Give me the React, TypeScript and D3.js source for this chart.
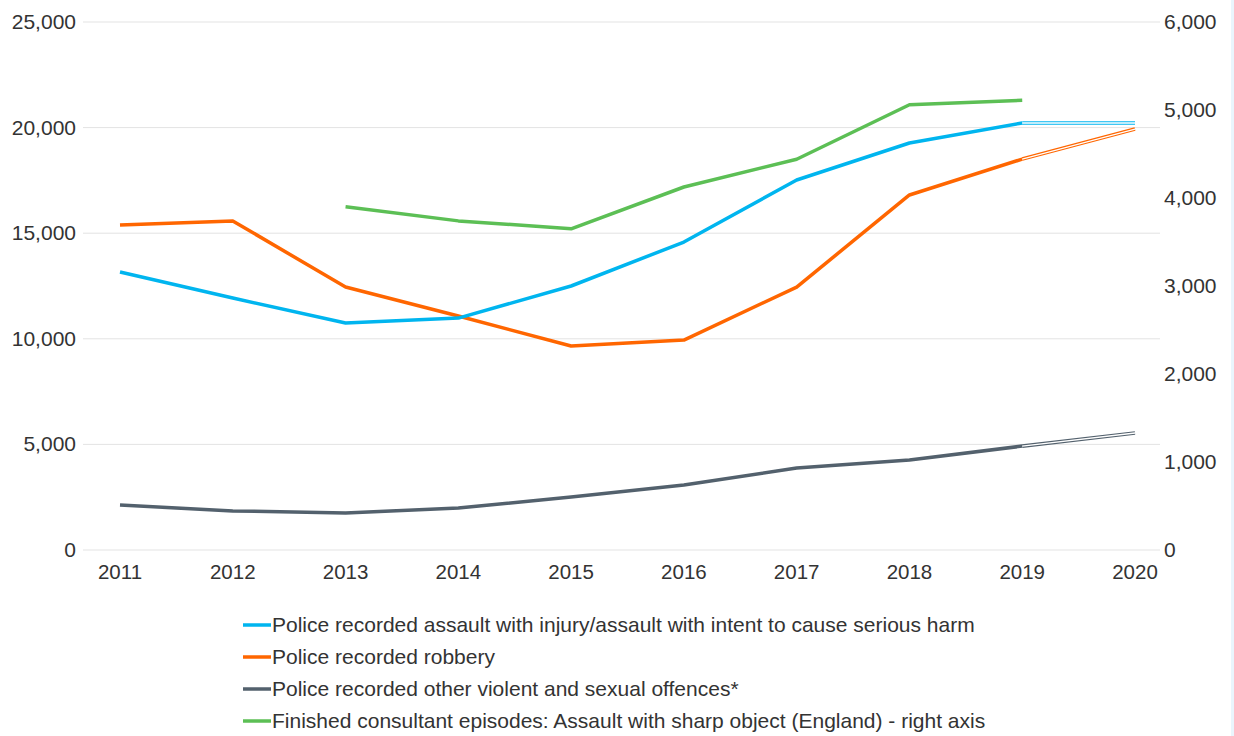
import React from "react";
import * as d3 from "d3";

const years = [2011, 2012, 2013, 2014, 2015, 2016, 2017, 2018, 2019, 2020];
const assault = [13160, 11930, 10750, 10980, 12500, 14580, 17520, 19270, 20220, 20220];
const robbery = [15390, 15580, 12450, 11080, 9660, 9940, 12450, 16810, 18510, 19930];
const otherViolent = [2130, 1850, 1750, 1990, 2510, 3080, 3880, 4260, 4920, 5540];
const sharpYears = [2013, 2014, 2015, 2016, 2017, 2018, 2019];
const sharpObject = [3900, 3740, 3650, 4125, 4440, 5060, 5110];
const leftTicks = [0, 5000, 10000, 15000, 20000, 25000];
const rightTicks = [0, 1000, 2000, 3000, 4000, 5000, 6000];
const legendLabels = [
  "Police recorded assault with injury/assault with intent to cause serious harm",
  "Police recorded robbery",
  "Police recorded other violent and sexual offences*",
  "Finished consultant episodes: Assault with sharp object (England) - right axis",
];
const colors = ["#00b5ef", "#ff6600", "#53616d", "#5cbf55"];

export default function App() {
  const x = d3.scaleLinear().domain([2011, 2020]).range([120, 1135]);
  const yL = d3.scaleLinear().domain([0, 25000]).range([550, 22]);
  const yR = d3.scaleLinear().domain([0, 6000]).range([550, 22]);
  const fmt = d3.format(",");
  const font = "'Liberation Sans', Arial, Helvetica, sans-serif";

  const line = d3.line<[number, number]>().x((d) => x(d[0])).y((d) => d[1]);

  const solidAndHollow = (vals: number[], scale: any, color: string, key: string) => {
    const pts: [number, number][] = years.map((yr, i) => [yr, scale(vals[i])]);
    const solid = pts.slice(0, 9);
    const hollow = pts.slice(8);
    return (
      <g key={key}>
        <path d={line(solid) || ""} fill="none" stroke={color} strokeWidth={3.5} strokeLinejoin="round" />
        <path d={line(hollow) || ""} fill="none" stroke={color} strokeWidth={3.6} />
        <path d={line(hollow) || ""} fill="none" stroke="#fff" strokeWidth={1.4} />
      </g>
    );
  };

  const greenPts: [number, number][] = sharpYears.map((yr, i) => [yr, yR(sharpObject[i])]);

  return (
    <svg
      width={1234}
      height={736}
      style={{ position: "absolute", left: 0, top: 0, background: "#fff" }}
      fontFamily={font}
    >
      <rect x={1231} y={0} width={3} height={736} fill="#eaf5fd" />
      {leftTicks.map((t) => (
        <g key={"l" + t}>
          <line x1={83} x2={1160} y1={yL(t)} y2={yL(t)} stroke="#e3e3e3" strokeWidth={1} />
          <text x={76} y={yL(t) + 7} textAnchor="end" fontSize={21} fill="#333">
            {fmt(t)}
          </text>
        </g>
      ))}
      {rightTicks.map((t) => (
        <text key={"r" + t} x={1164} y={yR(t) + 7} textAnchor="start" fontSize={21} fill="#333">
          {fmt(t)}
        </text>
      ))}
      {years.map((yr) => (
        <text key={"x" + yr} x={x(yr)} y={579} textAnchor="middle" fontSize={20.5} fill="#333">
          {yr}
        </text>
      ))}
      {solidAndHollow(otherViolent, yL, colors[2], "g")}
      {solidAndHollow(robbery, yL, colors[1], "o")}
      {solidAndHollow(assault, yL, colors[0], "b")}
      <path d={line(greenPts) || ""} fill="none" stroke={colors[3]} strokeWidth={3.5} strokeLinejoin="round" />
      {legendLabels.map((lab, i) => (
        <g key={"lg" + i} transform={`translate(243, ${625 + i * 32})`}>
          <line x1={0} x2={28} y1={0} y2={0} stroke={colors[i]} strokeWidth={3.5} />
          <text x={29} y={7} fontSize={21} fill="#333">
            {lab}
          </text>
        </g>
      ))}
    </svg>
  );
}
